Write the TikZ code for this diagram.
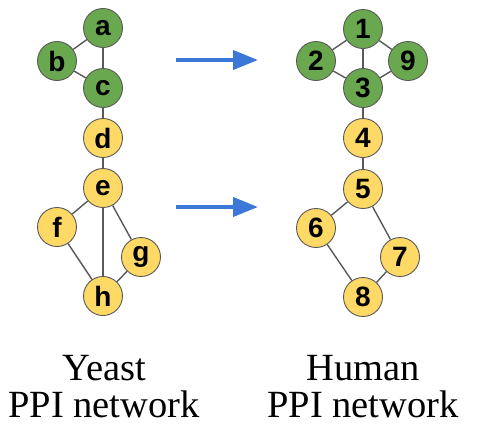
\documentclass[tikz,border=0pt]{standalone}
\usepackage{fontspec}
\setmainfont{Liberation Serif}
\newfontfamily\nodefont{Liberation Sans}
\usetikzlibrary{arrows.meta}
\definecolor{ggreen}{HTML}{6AA84F}
\definecolor{gyellow}{HTML}{FFD966}
\definecolor{gborder}{HTML}{595959}
\definecolor{gblue}{HTML}{3C78D8}
\tikzset{
  vtx/.style={circle,draw=gborder,line width=0.9pt,minimum size=39pt,inner sep=0pt,
    font=\nodefont\bfseries\fontsize{28}{28}\selectfont},
  grn/.style={vtx,fill=ggreen},
  ylw/.style={vtx,fill=gyellow},
  edge/.style={draw=gborder,line width=1.4pt},
  maparrow/.style={gblue,line width=4pt,-{Triangle[width=19pt,length=25pt]}},
}
\begin{document}
\begin{tikzpicture}[x=1pt,y=-1pt]
    \useasboundingbox (0,0) rectangle (500,440);
    % yeast
    \node[grn] (a) at (103,28) {a};
    \node[grn] (b) at (57,61) {b};
    \node[grn] (c) at (103,88) {c};
    \node[ylw] (d) at (103,138) {d};
    \node[ylw] (e) at (103,188) {e};
    \node[ylw] (f) at (57,227) {f};
    \node[ylw] (g) at (141,257) {g};
    \node[ylw] (h) at (103,296) {h};
    % human
    \node[grn] (n1) at (363,29) {1};
    \node[grn] (n2) at (316,61) {2};
    \node[grn] (n9) at (408,61) {9};
    \node[grn] (n3) at (363,88) {3};
    \node[ylw] (n4) at (363,138) {4};
    \node[ylw] (n5) at (363,189) {5};
    \node[ylw] (n6) at (316,228) {6};
    \node[ylw] (n7) at (400,257) {7};
    \node[ylw] (n8) at (363,297) {8};
    \foreach \u/\v in {a/b,a/c,b/c,c/d,d/e,e/f,e/h,e/g,f/h,g/h,
                       n1/n2,n1/n9,n1/n3,n2/n3,n9/n3,n3/n4,n4/n5,n5/n6,n5/n7,n6/n8,n7/n8}
        \draw[edge] (\u) -- (\v);
    \coordinate (s1) at (176,60);
    \coordinate (t1) at (258,60);
    \coordinate (s2) at (176,207);
    \coordinate (t2) at (258,207);
    \draw[maparrow] (s1) -- (t1);
    \draw[maparrow] (s2) -- (t2);
    \node[align=center,font=\fontsize{38.5}{37}\selectfont] (yeast) at (104,387) {Yeast\\PPI network};
    \node[align=center,font=\fontsize{38.5}{37}\selectfont] (human) at (363,387) {Human\\PPI network};
\end{tikzpicture}
\end{document}
